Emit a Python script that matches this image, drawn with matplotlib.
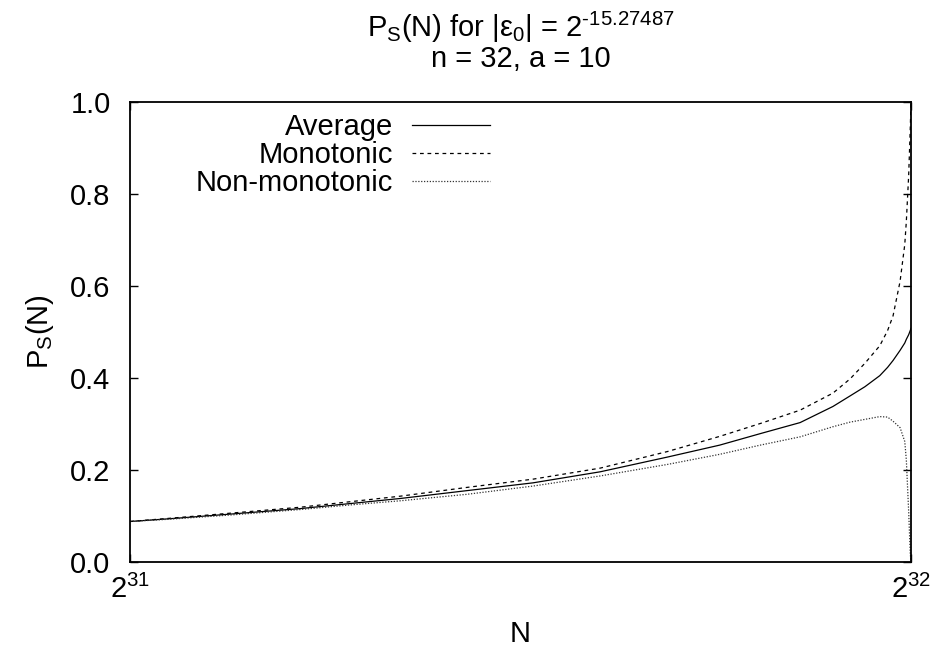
import numpy as np
import matplotlib
matplotlib.use("Agg")
import matplotlib.pyplot as plt

plt.rcParams['font.family'] = ['Liberation Sans', 'DejaVu Sans']
plt.rcParams['mathtext.fontset'] = 'custom'
plt.rcParams['mathtext.rm'] = 'Liberation Sans'
plt.rcParams['mathtext.it'] = 'Liberation Sans'
plt.rcParams['mathtext.default'] = 'regular'

# N / 2^31
n_ratio = [1.000, 1.051, 1.128, 1.218, 1.282, 1.346, 1.431, 1.516, 1.602,
           1.688, 1.755, 1.807, 1.858, 1.900, 1.922, 1.941, 1.960, 1.970,
           1.977, 1.986, 1.992, 1.994, 1.997, 1.999, 2.000]

p_average = [0.088, 0.094, 0.104, 0.116, 0.127, 0.138, 0.155, 0.172, 0.196,
             0.228, 0.254, 0.279, 0.303, 0.338, 0.361, 0.381, 0.405, 0.423,
             0.438, 0.460, 0.476, 0.484, 0.494, 0.503, 0.508]

p_mono = [0.088, 0.095, 0.106, 0.119, 0.131, 0.143, 0.162, 0.180, 0.204,
          0.240, 0.273, 0.301, 0.330, 0.367, 0.398, 0.432, 0.470, 0.503,
          0.535, 0.610, 0.690, 0.740, 0.840, 0.940, 1.000]

p_nonmono = [0.088, 0.093, 0.102, 0.114, 0.124, 0.133, 0.147, 0.165, 0.187,
             0.212, 0.234, 0.254, 0.272, 0.294, 0.304, 0.310, 0.316, 0.315,
             0.306, 0.292, 0.262, 0.222, 0.110, 0.020, 0.000]

FS = 21

fig = plt.figure(figsize=(9.36, 6.49), dpi=100)
ax = fig.add_axes([0.1389, 0.1341, 0.8344, 0.7088])

ax.plot(n_ratio, p_average, color='black', lw=0.9, label='Average')
ax.plot(n_ratio, p_mono, color='black', lw=0.9, dashes=(3, 3), label='Monotonic')
ax.plot(n_ratio, p_nonmono, color='#333333', lw=0.9, dashes=(1, 1.3), label='Non-monotonic')

ax.set_xlim(1, 2)
ax.set_ylim(0, 1)
ax.set_xticks([1, 2])
ax.set_xticklabels([r'2$^{31}$', r'2$^{32}$'])
ax.set_yticks([0, 0.2, 0.4, 0.6, 0.8, 1.0])
ax.set_yticklabels(['0.0', '0.2', '0.4', '0.6', '0.8', '1.0'])
ax.tick_params(direction='in', length=6, width=1, labelsize=FS,
               top=True, right=True)
ax.tick_params(axis='y', pad=14)
ax.tick_params(axis='x', pad=9)
for s in ax.spines.values():
    s.set_linewidth(1.3)

ax.set_xlabel('N', fontsize=FS, labelpad=12)
ax.set_ylabel(r'P$_\mathrm{S}$(N)', fontsize=FS, labelpad=10)

fig.text(0.556, 0.943, r'P$_\mathrm{S}$(N) for |ε$_0$| = 2$^{\mathrm{‐15.27487}}$',
         ha='center', va='baseline', fontsize=FS)
fig.text(0.556, 0.8967, 'n = 32, a = 10', ha='center', va='baseline', fontsize=FS)

ax.legend(loc='upper right', bbox_to_anchor=(0.461, 0.976), markerfirst=False,
          frameon=False, fontsize=FS, handlelength=2.67, handletextpad=0.65,
          labelspacing=0.0, borderpad=0, borderaxespad=0)

fig.savefig('out.png', dpi=100)
